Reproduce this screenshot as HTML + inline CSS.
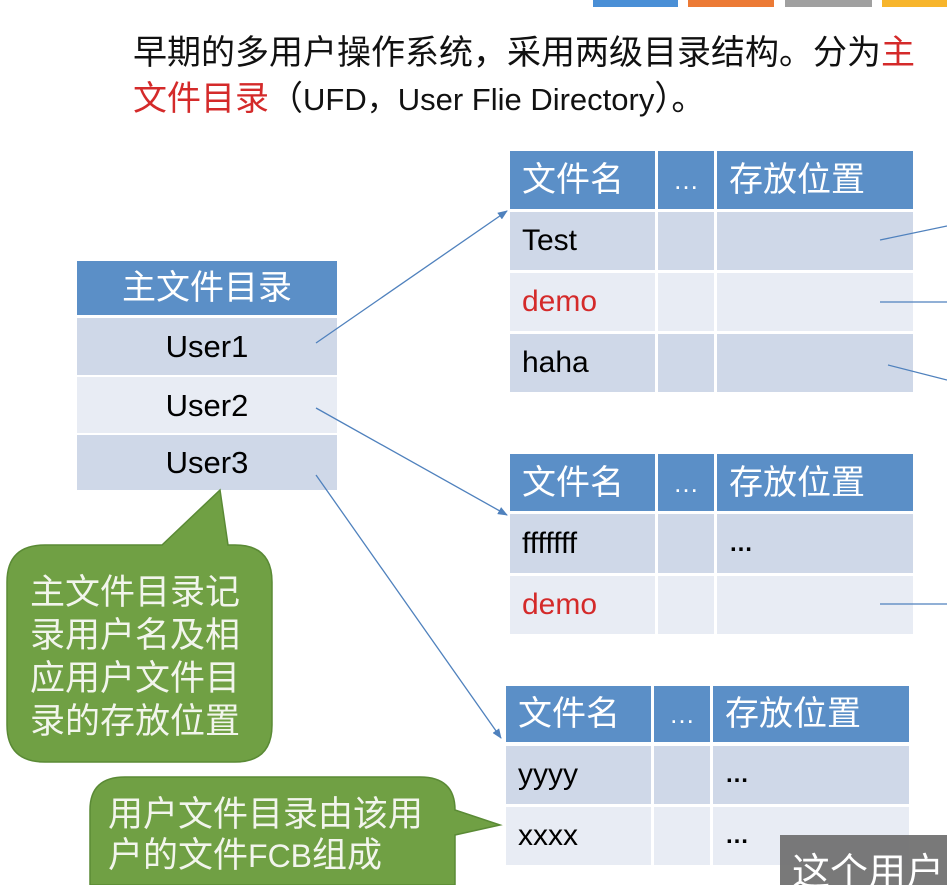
<!DOCTYPE html>
<html><head><meta charset="utf-8"><style>
body{margin:0;width:947px;height:885px;overflow:hidden;background:#fff;position:relative;font-family:"Liberation Sans","Noto Sans CJK SC",sans-serif}
.a{position:absolute;box-sizing:border-box}
.h{background:#5b8fc7;color:#fff}
.d{background:#cfd8e8}
.l{background:#e8ecf4}
.t{font-size:34px;line-height:1;display:flex;align-items:center;padding-left:12px}
.c{justify-content:center;padding-left:0}
.n{font-family:"Liberation Sans Narrow","Liberation Sans","Noto Sans CJK SC",sans-serif}
</style></head><body>
<div class="a" style="left:593px;top:0;width:85px;height:7px;background:#4a8fd6"></div>
<div class="a" style="left:688px;top:0;width:86px;height:7px;background:#ec7a35"></div>
<div class="a" style="left:785px;top:0;width:87px;height:7px;background:#a0a0a0"></div>
<div class="a" style="left:882px;top:0;width:65px;height:7px;background:#f7b52c"></div>
<div class="a" style="left:133px;top:33px;font-size:34px;line-height:40px;white-space:nowrap;color:#111">早期的多用户操作系统，采用两级目录结构。分为<span style="color:#d42a2a">主</span></div>
<div class="a" style="left:133px;top:79px;font-size:34px;line-height:40px;white-space:nowrap;color:#111"><span style="color:#d42a2a">文件目录</span>（<span class="n" style="font-size:31px">UFD，User Flie Directory</span>）。</div>

<div class="a h t c" style="left:77px;top:261px;width:260px;height:54px">主文件目录</div>
<div class="a d t c" style="left:77px;top:318px;width:260px;height:57px;font-size:31px">User1</div>
<div class="a l t c" style="left:77px;top:377px;width:260px;height:56px;font-size:31px">User2</div>
<div class="a d t c" style="left:77px;top:435px;width:260px;height:55px;font-size:31px">User3</div>

<div class="a h t" style="left:510px;top:151px;width:145px;height:58px">文件名</div>
<div class="a h t c" style="left:658px;top:151px;width:56px;height:58px;font-size:26px">…</div>
<div class="a h t" style="left:717px;top:151px;width:196px;height:58px">存放位置</div>
<div class="a d t" style="left:510px;top:212px;width:145px;height:58px;font-size:30px">Test</div>
<div class="a d" style="left:658px;top:212px;width:56px;height:58px"></div>
<div class="a d" style="left:717px;top:212px;width:196px;height:58px"></div>
<div class="a l t" style="left:510px;top:273px;width:145px;height:58px;font-size:30px;color:#d42a2a">demo</div>
<div class="a l" style="left:658px;top:273px;width:56px;height:58px"></div>
<div class="a l" style="left:717px;top:273px;width:196px;height:58px"></div>
<div class="a d t" style="left:510px;top:334px;width:145px;height:58px;font-size:30px">haha</div>
<div class="a d" style="left:658px;top:334px;width:56px;height:58px"></div>
<div class="a d" style="left:717px;top:334px;width:196px;height:58px"></div>

<div class="a h t" style="left:510px;top:454px;width:145px;height:57px">文件名</div>
<div class="a h t c" style="left:658px;top:454px;width:56px;height:57px;font-size:26px">…</div>
<div class="a h t" style="left:717px;top:454px;width:196px;height:57px">存放位置</div>
<div class="a d t" style="left:510px;top:514px;width:145px;height:59px;font-size:30px">fffffff</div>
<div class="a d" style="left:658px;top:514px;width:56px;height:59px"></div>
<div class="a d t" style="left:717px;top:514px;width:196px;height:59px;font-size:24px;font-weight:bold">…</div>
<div class="a l t" style="left:510px;top:576px;width:145px;height:58px;font-size:30px;color:#d42a2a">demo</div>
<div class="a l" style="left:658px;top:576px;width:56px;height:58px"></div>
<div class="a l" style="left:717px;top:576px;width:196px;height:58px"></div>

<div class="a h t" style="left:506px;top:686px;width:145px;height:56px">文件名</div>
<div class="a h t c" style="left:654px;top:686px;width:56px;height:56px;font-size:26px">…</div>
<div class="a h t" style="left:713px;top:686px;width:196px;height:56px">存放位置</div>
<div class="a d t" style="left:506px;top:746px;width:145px;height:58px;font-size:30px">yyyy</div>
<div class="a d" style="left:654px;top:746px;width:56px;height:58px"></div>
<div class="a d t" style="left:713px;top:746px;width:196px;height:58px;font-size:24px;font-weight:bold">…</div>
<div class="a l t" style="left:506px;top:807px;width:145px;height:58px;font-size:30px">xxxx</div>
<div class="a l" style="left:654px;top:807px;width:56px;height:58px"></div>
<div class="a l t" style="left:713px;top:807px;width:196px;height:58px;font-size:24px;font-weight:bold">…</div>

<svg class="a" style="left:0;top:0" width="947" height="885">
<defs><marker id="m" markerWidth="10" markerHeight="8" refX="9" refY="4" orient="auto" markerUnits="userSpaceOnUse"><path d="M0,0L10,4L0,8z" fill="#4f81bd"/></marker></defs>
<g stroke="#4f81bd" stroke-width="1.3" fill="none">
<line x1="316" y1="343" x2="507" y2="211" marker-end="url(#m)"/>
<line x1="316" y1="408" x2="507" y2="515" marker-end="url(#m)"/>
<line x1="316" y1="475" x2="501" y2="738" marker-end="url(#m)"/>
<line x1="880" y1="240" x2="947" y2="226"/>
<line x1="880" y1="302" x2="947" y2="302"/>
<line x1="888" y1="365" x2="947" y2="380"/>
<line x1="880" y1="604" x2="947" y2="604"/>
</g>
<path d="M45,545 L162,545 L220,490 L228,545 L235,545 Q272,545 272,582 L272,725 Q272,762 235,762 L45,762 Q7,762 7,725 L7,582 Q7,545 45,545Z" fill="#70a044" stroke="#5a8a35" stroke-width="1.5"/>
<path d="M125,777 L420,777 Q455,777 455,810 L500,825 L455,835 L455,885 L90,885 L90,810 Q90,777 125,777Z" fill="#70a044" stroke="#5a8a35" stroke-width="1.5"/>
</svg>
<div class="a" style="left:30px;top:571px;width:222px;font-size:35px;line-height:43px;color:#f2f5ec">主文件目录记录用户名及相应用户文件目录的存放位置</div>
<div class="a" style="left:108px;top:794px;width:330px;font-size:35px;line-height:41px;color:#f2f5ec">用户文件目录由该用户的文件<span class="n" style="font-size:32px">FCB</span>组成</div>
<div class="a" style="left:780px;top:835px;width:167px;height:50px;background:rgba(110,110,110,0.92);color:#fff;font-size:38px;padding-left:12px;padding-top:6px;white-space:nowrap;overflow:hidden">这个用户</div>
</body></html>
